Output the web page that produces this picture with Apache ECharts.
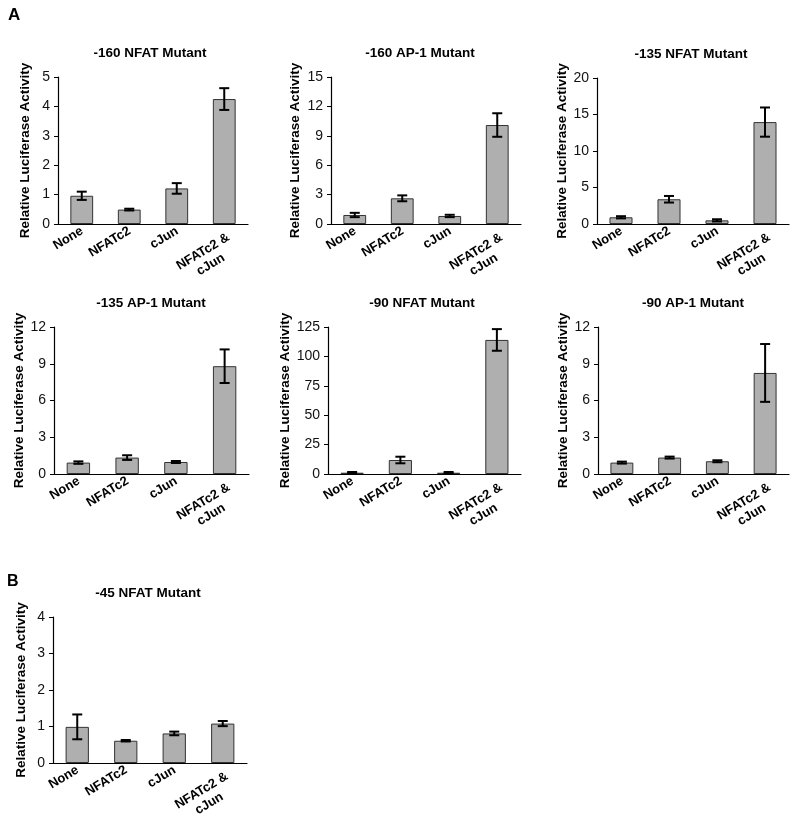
<!DOCTYPE html>
<html>
<head>
<meta charset="utf-8">
<script src="https://cdn.jsdelivr.net/npm/echarts@6/dist/echarts.min.js"></script>
<style>html,body{margin:0;padding:0;background:#fff;}#main{width:800px;height:820px;}</style>
</head>
<body>
<div id="main"></div>
<script>
var categories = ['None', 'NFATc2', 'cJun', 'NFATc2 &\ncJun'];

var titles = ['-160 NFAT Mutant', '-160 AP-1 Mutant', '-135 NFAT Mutant',
              '-135 AP-1 Mutant', '-90 NFAT Mutant', '-90 AP-1 Mutant', '-45 NFAT Mutant'];

var values160NFAT = [0.96, 0.49, 1.21, 4.25];
var errors160NFAT = [0.14, 0.03, 0.18, 0.37];
var values160AP1 = [0.92, 2.62, 0.82, 10.1];
var errors160AP1 = [0.22, 0.3, 0.12, 1.2];
var values135NFAT = [0.92, 3.39, 0.5, 13.96];
var errors135NFAT = [0.15, 0.45, 0.15, 2.0];
var values135AP1 = [0.93, 1.34, 0.98, 8.8];
var errors135AP1 = [0.1, 0.19, 0.08, 1.37];
var values90NFAT = [1.1, 11.9, 1.1, 114];
var errors90NFAT = [0.6, 2.8, 0.6, 9.2];
var values90AP1 = [0.93, 1.34, 1.04, 8.25];
var errors90AP1 = [0.08, 0.08, 0.08, 2.36];
var values45NFAT = [0.99, 0.61, 0.81, 1.08];
var errors45NFAT = [0.34, 0.02, 0.05, 0.07];

var yMax = [5, 15, 20, 12, 125, 12, 4];
var yInterval = [1, 3, 5, 3, 25, 3, 1];

var allValues = [values160NFAT, values160AP1, values135NFAT, values135AP1, values90NFAT, values90AP1, values45NFAT];
var allErrors = [errors160NFAT, errors160AP1, errors135NFAT, errors135AP1, errors90NFAT, errors90AP1, errors45NFAT];

var grids = [
  {left: 58, top: 77, width: 190, height: 147},
  {left: 331, top: 77, width: 190, height: 147},
  {left: 597, top: 78, width: 192, height: 146},
  {left: 54, top: 327, width: 195, height: 147},
  {left: 328, top: 327, width: 193, height: 147},
  {left: 598, top: 327, width: 191, height: 147},
  {left: 53, top: 617, width: 194, height: 146}
];
var titleCenters = [150, 420, 691, 151, 422, 693, 148];
var nameDist = [33, 36, 34, 31, 41, 33, 32];

var FONT = 'Liberation Sans, Arial, Helvetica, sans-serif';
var NAME_FS = 13.5;
var XL_FS = 13;
var XL_LH = 15;
var XL_SHIFT = 5;

var chart = echarts.init(document.getElementById('main'), null, {renderer: 'canvas'});

var option = {
  backgroundColor: '#ffffff',
  animation: false,
  title: [],
  grid: [],
  xAxis: [],
  yAxis: [],
  series: [],
  graphic: [
    {type: 'text', left: 8, top: 7, style: {text: 'A', font: 'bold 17px ' + FONT, fill: '#000'}},
    {type: 'text', left: 7, top: 574, style: {text: 'B', font: 'bold 16px ' + FONT, fill: '#000'}}
  ]
};

var xData = categories.map(function (c) {
  if (c.indexOf('\n') >= 0) {
    return {value: c, textStyle: {padding: [0, -XL_SHIFT, -XL_LH, 0]}};
  }
  return c;
});

for (var i = 0; i < 7; i++) {
  var g = grids[i];
  option.grid.push({left: g.left, top: g.top, width: g.width, height: g.height,
                    containLabel: false, outerBoundsMode: 'none'});
  option.title.push({
    text: titles[i],
    left: titleCenters[i] - 5,
    top: g.top - 36,
    textAlign: 'center',
    textStyle: {fontFamily: FONT, fontWeight: 'bold', fontSize: 13.5, color: '#000'}
  });
  option.xAxis.push({
    type: 'category',
    gridIndex: i,
    data: xData,
    axisLine: {show: true, lineStyle: {color: '#000', width: 1.2}},
    axisTick: {show: false},
    axisLabel: {
      rotate: 31,
      interval: 0,
      margin: 15,
      align: 'right',
      verticalAlign: 'bottom',
      padding: [0, -XL_SHIFT, 0, 0],
      hideOverlap: false,
      fontFamily: FONT,
      fontWeight: 'bold',
      fontSize: XL_FS,
      color: '#000',
      lineHeight: XL_LH,
      formatter: function (v) {
        if (v.indexOf('\n') >= 0) {
          var parts = v.split('\n');
          return '{a|' + parts[0] + '}\n{b|' + parts[1] + '}';
        }
        return v;
      },
      rich: {
        a: {fontFamily: FONT, fontWeight: 'bold', fontSize: XL_FS, color: '#000', lineHeight: XL_LH},
        b: {fontFamily: FONT, fontWeight: 'bold', fontSize: XL_FS, color: '#000', lineHeight: XL_LH, align: 'center'}
      }
    }
  });
  option.yAxis.push({
    type: 'value',
    gridIndex: i,
    min: 0,
    max: yMax[i],
    interval: yInterval[i],
    name: 'Relative Luciferase Activity',
    nameLocation: 'middle',
    nameRotate: 90,
    nameGap: nameDist[i] - 7,
    nameTextStyle: {fontFamily: FONT, fontWeight: 'bold', fontSize: NAME_FS, color: '#000'},
    axisLine: {show: true, lineStyle: {color: '#000', width: 1.2}},
    axisTick: {show: true, length: 4, lineStyle: {color: '#000', width: 1}},
    splitLine: {show: false},
    axisLabel: {fontFamily: FONT, fontSize: 14, color: '#111', margin: 8}
  });
  option.series.push({
    type: 'bar',
    xAxisIndex: i,
    yAxisIndex: i,
    data: allValues[i],
    barWidth: '48%',
    itemStyle: {color: '#afafaf', borderColor: '#333', borderWidth: 1}
  });
  (function (vals, errs, idx) {
    option.series.push({
      type: 'custom',
      xAxisIndex: idx,
      yAxisIndex: idx,
      data: vals.map(function (v, k) { return [k, v - errs[k], v + errs[k]]; }),
      z: 5,
      renderItem: function (params, api) {
        var x = api.value(0);
        var lo = api.coord([x, api.value(1)]);
        var hi = api.coord([x, api.value(2)]);
        var hw = 5;
        var st = {stroke: '#000', lineWidth: 2, fill: null};
        return {
          type: 'group',
          children: [
            {type: 'line', shape: {x1: hi[0], y1: hi[1], x2: lo[0], y2: lo[1]}, style: st},
            {type: 'line', shape: {x1: hi[0] - hw, y1: hi[1], x2: hi[0] + hw, y2: hi[1]}, style: st},
            {type: 'line', shape: {x1: lo[0] - hw, y1: lo[1], x2: lo[0] + hw, y2: lo[1]}, style: st}
          ]
        };
      }
    });
  })(allValues[i], allErrors[i], i);
}

chart.setOption(option);
</script>
</body>
</html>
